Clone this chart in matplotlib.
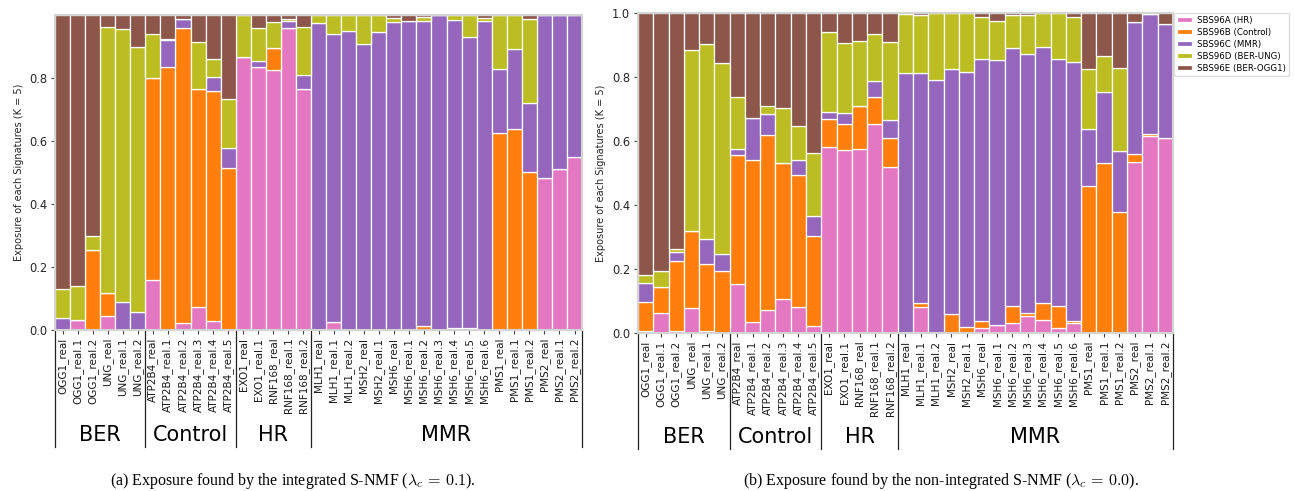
import matplotlib
matplotlib.use("Agg")
import matplotlib.pyplot as plt
import matplotlib.transforms as mtransforms
import numpy as np

samples = ['OGG1_real', 'OGG1_real.1', 'OGG1_real.2', 'UNG_real', 'UNG_real.1', 'UNG_real.2',
           'ATP2B4_real', 'ATP2B4_real.1', 'ATP2B4_real.2', 'ATP2B4_real.3', 'ATP2B4_real.4', 'ATP2B4_real.5',
           'EXO1_real', 'EXO1_real.1', 'RNF168_real', 'RNF168_real.1', 'RNF168_real.2',
           'MLH1_real', 'MLH1_real.1', 'MLH1_real.2', 'MSH2_real', 'MSH2_real.1',
           'MSH6_real', 'MSH6_real.1', 'MSH6_real.2', 'MSH6_real.3', 'MSH6_real.4', 'MSH6_real.5', 'MSH6_real.6',
           'PMS1_real', 'PMS1_real.1', 'PMS1_real.2', 'PMS2_real', 'PMS2_real.1', 'PMS2_real.2']
groups = ['BER', 'Control', 'HR', 'MMR']
group_sizes = [6, 6, 5, 18]
signatures = ['SBS96A (HR)', 'SBS96B (Control)', 'SBS96C (MMR)', 'SBS96D (BER-UNG)', 'SBS96E (BER-OGG1)']
colors = ['#e377c2', '#ff7f0e', '#9467bd', '#bcbd22', '#8c564b']

# (a) integrated S-NMF
int_hr = [0, 0.032, 0, 0.044, 0, 0, 0.159, 0, 0.021, 0.074, 0.029, 0, 0.868, 0.834, 0.825, 0.958, 0.764,
          0, 0.024, 0, 0, 0, 0, 0, 0, 0, 0, 0.007, 0, 0, 0, 0, 0.481, 0.51, 0.55]
int_ctrl = [0, 0, 0.254, 0.072, 0, 0, 0.64, 0.836, 0.939, 0.69, 0.73, 0.515, 0, 0, 0.069, 0, 0,
            0, 0, 0, 0, 0, 0, 0, 0.013, 0, 0.007, 0, 0, 0.624, 0.637, 0.503, 0, 0, 0]
int_mmr = [0.037, 0, 0, 0, 0.088, 0.056, 0, 0.085, 0.026, 0, 0.045, 0.062, 0, 0.02, 0, 0.024, 0.047,
           0.974, 0.916, 0.95, 0.907, 0.946, 0.979, 0.982, 0.969, 1.0, 0.977, 0.924, 0.982, 0.205, 0.254, 0.217,
           0.519, 0.49, 0.45]
int_ung = [0.092, 0.108, 0.044, 0.845, 0.867, 0.841, 0.14, 0.003, 0, 0.149, 0.055, 0.155, 0.132, 0.106, 0.083,
           0.004, 0.152, 0.026, 0.06, 0.05, 0.093, 0.054, 0.01, 0, 0.011, 0, 0.016, 0.069, 0.007, 0.171, 0.109,
           0.268, 0, 0, 0]
int_ogg1 = [0.871, 0.86, 0.702, 0.039, 0.045, 0.103, 0.061, 0.076, 0.014, 0.087, 0.141, 0.268, 0, 0.04, 0.023,
            0.014, 0.037, 0, 0, 0, 0, 0, 0.011, 0.018, 0.007, 0, 0, 0, 0.011, 0, 0, 0.012, 0, 0, 0]

# (b) non-integrated S-NMF
non_hr = [0.006, 0.061, 0.006, 0.077, 0.006, 0, 0.153, 0.034, 0.072, 0.105, 0.08, 0.023, 0.582, 0.571, 0.574,
          0.652, 0.519, 0, 0.082, 0, 0, 0, 0.017, 0.025, 0.031, 0.053, 0.041, 0.015, 0.032, 0, 0, 0,
          0.535, 0.615, 0.608]
non_ctrl = [0.092, 0.084, 0.219, 0.241, 0.21, 0.194, 0.402, 0.505, 0.545, 0.425, 0.413, 0.28, 0.086, 0.081,
            0.135, 0.086, 0.09, 0, 0.011, 0, 0.059, 0.02, 0.022, 0, 0.054, 0.01, 0.052, 0.069, 0.007, 0.459,
            0.532, 0.378, 0.023, 0.006, 0]
non_mmr = [0.059, 0, 0.029, 0, 0.077, 0.054, 0.019, 0.132, 0.066, 0, 0.046, 0.061, 0.022, 0.034, 0, 0.05,
           0.056, 0.813, 0.718, 0.79, 0.764, 0.795, 0.815, 0.827, 0.804, 0.807, 0.799, 0.77, 0.806, 0.177,
           0.22, 0.191, 0.413, 0.375, 0.357]
non_ung = [0.023, 0.048, 0.007, 0.565, 0.608, 0.596, 0.162, 0, 0.026, 0.171, 0.107, 0.199, 0.249, 0.22, 0.202,
           0.145, 0.244, 0.182, 0.181, 0.21, 0.177, 0.185, 0.134, 0.123, 0.104, 0.123, 0.108, 0.145, 0.141,
           0.188, 0.113, 0.259, 0, 0, 0]
non_ogg1 = [0.82, 0.807, 0.739, 0.117, 0.099, 0.156, 0.264, 0.329, 0.291, 0.299, 0.354, 0.437, 0.061, 0.094,
            0.089, 0.067, 0.091, 0.005, 0.008, 0, 0, 0, 0.012, 0.025, 0.007, 0.007, 0, 0, 0.014, 0.176, 0.135,
            0.172, 0.029, 0.004, 0.035]

plt.rcParams['mathtext.fontset'] = 'cm'


def draw(ax, series, yticks, label_y, line_y):
    x = np.arange(len(samples))
    bottom = np.zeros(len(samples))
    for vals, c, lab in zip(series, colors, signatures):
        ax.bar(x, vals, width=1.0, bottom=bottom, color=c, edgecolor='white', linewidth=0.9, label=lab)
        bottom += np.array(vals)
    ax.set_xlim(-0.5, len(samples) - 0.5)
    ax.set_ylim(0, 1.0)
    ax.set_yticks(yticks)
    ax.set_yticklabels([f'{t:.1f}' for t in yticks], fontsize=8.3, color='#262626')
    ax.set_xticks(x)
    ax.set_xticklabels(samples, rotation=90, fontsize=7.5, color='#1a1a1a')
    ax.tick_params(length=3, width=0.8, color='#444444', pad=2.5)
    ax.set_ylabel('Exposure of each Signatures (K = 5)', fontsize=7, color='#262626')
    for s in ax.spines.values():
        s.set_color('#d4d4d4')
        s.set_linewidth(1.5)
    # group separators and names under the tick labels
    trans = mtransforms.blended_transform_factory(ax.transData, ax.transAxes)
    edges = np.concatenate([[0], np.cumsum(group_sizes)]) - 0.5
    for e in edges:
        ax.plot([e, e], [0, line_y], transform=trans, clip_on=False, color='#222222', lw=0.9)
    for g, lo, hi in zip(groups, edges[:-1], edges[1:]):
        ax.text((lo + hi) / 2, label_y, g, transform=trans, ha='center', va='center', fontsize=15)


fig = plt.figure(figsize=(12.94, 4.91), dpi=100)
ax1 = fig.add_axes([0.0425, 0.3279, 0.4073, 0.6415])
ax2 = fig.add_axes([0.4930, 0.3218, 0.4134, 0.6523])

draw(ax1, [int_hr, int_ctrl, int_mmr, int_ung, int_ogg1], [0, 0.2, 0.4, 0.6, 0.8], -0.333, -0.371)
draw(ax2, [non_hr, non_ctrl, non_mmr, non_ung, non_ogg1], [0, 0.2, 0.4, 0.6, 0.8, 1.0], -0.325, -0.362)

leg = ax2.legend(loc='upper left', bbox_to_anchor=(1.002, 1.0), borderaxespad=0, fontsize=6.2,
                 handlelength=1.8, handleheight=0.55, handletextpad=0.5, labelspacing=0.35,
                 borderpad=0.35, frameon=True, fancybox=True)
leg.get_frame().set_edgecolor('#d4d4d4')

fig.text(0.226, 0.02, r'(a) Exposure found by the integrated S-NMF ($\lambda_c\,=\,0.1$).',
         ha='center', va='center', fontsize=11.5, family='Liberation Serif')
fig.text(0.727, 0.02, r'(b) Exposure found by the non-integrated S-NMF ($\lambda_c\,=\,0.0$).',
         ha='center', va='center', fontsize=11.5, family='Liberation Serif')

fig.savefig('out.png', dpi=100)
